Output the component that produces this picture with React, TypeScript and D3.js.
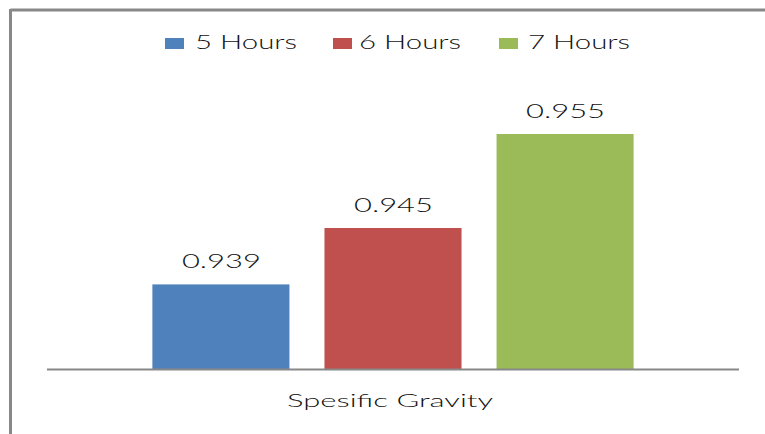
import React from "react";
import * as d3 from "d3";

const categories = ["Spesific Gravity"];
const seriesNames = ["5 Hours", "6 Hours", "7 Hours"];
const seriesValues = [0.939, 0.945, 0.955];
const valueLabels = ["0.939", "0.945", "0.955"];
const seriesColors = ["#4F81BD", "#C0504D", "#9BBB59"];

const W = 765;
const H = 434;
const FONT = "Lato, 'Open Sans', sans-serif";

export default function App() {
  const plotLeft = 47;
  const plotRight = 739;
  const baseY = 369;
  const topY = 87;

  const x0 = d3.scaleBand<string>().domain(categories).range([plotLeft, plotRight]).paddingOuter(0.219).paddingInner(0);
  const x1 = d3
    .scaleBand<string>()
    .domain(seriesNames)
    .range([0, x0.bandwidth()])
    .paddingInner(0.2035)
    .paddingOuter(0);
  const y = d3.scaleLinear().domain([0.93, 0.96]).range([baseY, topY]);

  const legendX = [165, 333, 499];
  const legendTextX = [195, 359, 528];

  return (
    <svg width={W} height={H} style={{ position: "absolute", left: 0, top: 0, background: "#fff" }}>
      <rect x={0} y={0} width={W} height={H} fill="#fff" />
      {/* frame */}
      <line x1={10.5} y1={10} x2={W} y2={10} stroke="#888" strokeWidth={3} />
      <line x1={10.5} y1={9} x2={10.5} y2={H} stroke="#888" strokeWidth={3} />

      {/* legend */}
      {seriesNames.map((s, i) => (
        <g key={s}>
          <rect x={legendX[i]} y={38} width={19} height={11} fill={seriesColors[i]} />
          <text
            x={legendTextX[i]}
            y={49}
            fontFamily={FONT}
            fontSize={19}
            fontWeight={300}
            fill="#111"
            textLength={102}
            lengthAdjust="spacingAndGlyphs"
          >
            {s}
          </text>
        </g>
      ))}

      {/* bars */}
      {categories.map((c) => (
        <g key={c} transform={`translate(${x0(c)},0)`}>
          {seriesNames.map((s, i) => {
            const bx = x1(s)!;
            const by = y(seriesValues[i]);
            return (
              <g key={s}>
                <rect x={bx} y={by} width={x1.bandwidth()} height={baseY - by} fill={seriesColors[i]} />
                <text
                  x={bx + x1.bandwidth() / 2 - 39}
                  y={by - 16}
                  fontFamily={FONT}
                  fontSize={19}
                  fontWeight={300}
                  fill="#111"
                  textLength={79}
                  lengthAdjust="spacingAndGlyphs"
                >
                  {valueLabels[i]}
                </text>
              </g>
            );
          })}
        </g>
      ))}

      {/* baseline */}
      <line x1={plotLeft} y1={baseY + 0.5} x2={plotRight} y2={baseY + 0.5} stroke="#888" strokeWidth={2} />

      {/* category label */}
      {categories.map((c) => (
        <text
          key={c}
          x={x0(c)! + x0.bandwidth() / 2 - 106}
          y={407}
          fontFamily={FONT}
          fontSize={17}
          fontWeight={300}
          fill="#111"
          textLength={206}
          lengthAdjust="spacingAndGlyphs"
        >
          {c}
        </text>
      ))}
    </svg>
  );
}
